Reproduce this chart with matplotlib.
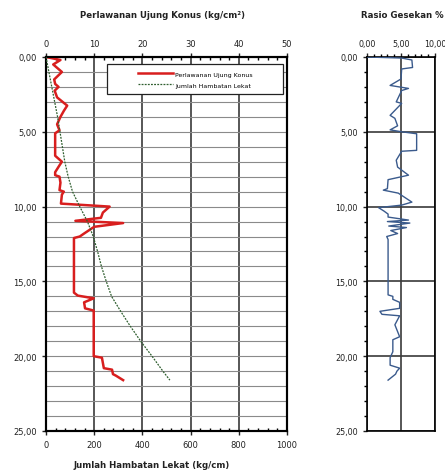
import numpy as np
import matplotlib
matplotlib.use("Agg")
import matplotlib.pyplot as plt
from matplotlib.ticker import MultipleLocator, FuncFormatter
from matplotlib.patches import Rectangle

# data
depth_qc = [0, 0.2, 0.5, 1.0, 1.5, 1.8, 2.0, 2.25, 2.7, 3.25, 3.6, 4.0, 4.5, 4.9, 5.1, 6.0,
            6.6, 7.0, 7.24, 7.7, 7.9, 8.0, 8.4, 8.9, 9.0, 9.2, 9.8, 10.0, 10.4, 10.75, 10.95,
            11.1, 11.35, 11.8, 12.0, 12.1, 15.75, 15.95, 16.13, 16.4, 16.8, 16.95, 20.0, 20.1,
            20.8, 20.9, 21.2, 21.3, 21.6]
qc = [0, 3.0, 1.5, 3.3, 1.7, 1.9, 2.6, 1.8, 2.3, 4.4, 3.7, 3.0, 2.3, 2.8, 1.9, 1.9,
      1.9, 3.3, 2.8, 1.9, 1.9, 2.8, 3.0, 2.8, 3.7, 3.3, 3.1, 13.2, 11.8, 11.4, 6.1,
      16.0, 10.0, 7.9, 7.0, 5.8, 5.8, 6.6, 9.9, 7.9, 8.1, 9.9, 9.9, 11.6,
      12.0, 13.7, 13.9, 14.5, 16.0]

depth_jhl = [0, 1, 2, 3, 4, 5, 6, 7, 8, 9, 10, 11, 12, 13, 14, 15, 16, 17, 18, 19, 20, 21, 21.6]
jhl = [0, 12, 24, 36, 48, 58, 68, 78, 92, 110, 140, 172, 196, 214, 230, 250, 272, 310, 350,
       393, 440, 485, 514]

depth_rf = [0, 0.07, 0.2, 0.7, 0.8, 1.47, 1.9, 2.1, 2.24, 3.0, 3.1, 3.9, 4.1, 4.6, 4.87, 5.0,
            5.13, 6.24, 6.3, 6.9, 7.36, 7.9, 8.2, 8.8, 8.9, 9.1, 9.7, 9.9, 10.07, 10.3, 10.5,
            10.7, 10.9, 11.0, 11.1, 11.3, 11.4, 11.6, 11.8, 12.0, 12.2, 15.9, 16.0, 16.2, 16.4,
            16.8, 17.0, 17.2, 17.3, 17.9, 18.7, 18.9, 19.7, 20.1, 20.6, 20.8, 21.0, 21.2, 21.6]
rf = [0, 5.1, 6.6, 6.7, 5.1, 5.0, 3.4, 6.1, 5.1, 4.3, 5.1, 3.4, 4.1, 4.5, 3.4, 5.1,
      7.3, 7.3, 5.1, 4.3, 4.5, 6.1, 3.1, 3.0, 2.4, 4.6, 6.6, 5.1, 1.7, 2.5, 3.1,
      3.1, 6.1, 3.0, 6.3, 3.2, 5.8, 3.5, 4.5, 2.9, 3.1, 3.1, 3.8, 3.8, 4.8,
      4.8, 1.9, 2.2, 4.8, 4.1, 4.8, 3.8, 3.8, 3.4, 3.4, 4.8, 4.4, 4.2, 3.1]

plt.rcParams['font.family'] = ['DejaVu Sans']
comma2 = FuncFormatter(lambda v, p: f"{v:.2f}".replace('.', ','))

fig = plt.figure(figsize=(4.45, 4.77), dpi=100)
W, H = 445, 477
def box(x0, x1, ytop, ybot):
    return [x0 / W, 1 - ybot / H, (x1 - x0) / W, (ybot - ytop) / H]

# --- left chart ---
ax1 = fig.add_axes(box(46, 287, 58, 432))
ax1b = ax1.twiny()

ax1.set_xlim(0, 50)
ax1.set_ylim(25, 0)
ax1.xaxis.tick_top()
ax1.xaxis.set_major_locator(MultipleLocator(10))
ax1.xaxis.set_minor_locator(MultipleLocator(2))
ax1.yaxis.set_major_locator(MultipleLocator(5))
ax1.yaxis.set_minor_locator(MultipleLocator(1))
ax1.yaxis.set_major_formatter(comma2)
ax1.grid(True, axis='y', which='both', color='#8a8a8a', lw=0.8)
ax1.grid(True, axis='x', which='major', color='#3a3a3a', lw=1.2)
ax1.tick_params(axis='both', which='major', labelsize=6, length=3, width=1, colors='#222222')
ax1.tick_params(axis='x', which='minor', direction='in', length=2, width=1)
ax1.tick_params(axis='y', which='minor', length=0)
for s in ax1.spines.values():
    s.set_linewidth(1.5)
l1, = ax1.plot(qc, depth_qc, color='#d81e1e', lw=1.8, label='Perlawanan Ujung Konus', zorder=4)

ax1b.set_xlim(0, 1000)
ax1b.xaxis.tick_bottom()
ax1b.xaxis.set_major_locator(MultipleLocator(200))
ax1b.xaxis.set_minor_locator(MultipleLocator(40))
ax1b.tick_params(axis='x', which='major', labelsize=6, length=3, width=1, colors='#222222')
ax1b.tick_params(axis='x', which='minor', direction='in', length=2, width=1)
for s in ax1b.spines.values():
    s.set_linewidth(1.5)
l2, = ax1b.plot(jhl, depth_jhl, color='#2e5e2e', lw=0.9, ls=(0, (1.5, 1)), label='Jumlah Hambatan Lekat', zorder=3)

# legend with a white box
ax1.add_patch(Rectangle((12.7, 0.5), 36.4, 2.0, facecolor='white', edgecolor='#222222',
                        lw=0.9, zorder=5, clip_on=False))
leg = ax1.legend([l1, l2], [l1.get_label(), l2.get_label()], loc='center',
                 bbox_to_anchor=(0.62, 0.94), fontsize=4.5, frameon=False,
                 handlelength=5.5, handletextpad=0.4, labelspacing=0.9)
leg.set_zorder(6)

fig.text(163 / W, 1 - 15 / H, 'Perlawanan Ujung Konus (kg/cm²)', ha='center', va='center',
         fontsize=6.2, fontweight='bold', color='#222222')
fig.text(152 / W, 1 - 466 / H, 'Jumlah Hambatan Lekat (kg/cm)', ha='center', va='center',
         fontsize=6.2, fontweight='bold', color='#222222')

# --- right chart ---
ax2 = fig.add_axes(box(367, 435, 58, 432))
ax2.set_xlim(0, 10)
ax2.set_ylim(25, 0)
ax2.xaxis.tick_top()
ax2.xaxis.set_major_locator(MultipleLocator(5))
ax2.xaxis.set_minor_locator(MultipleLocator(1))
ax2.xaxis.set_major_formatter(comma2)
ax2.yaxis.set_major_locator(MultipleLocator(5))
ax2.yaxis.set_minor_locator(MultipleLocator(1))
ax2.yaxis.set_major_formatter(comma2)
ax2.grid(True, which='major', color='#3a3a3a', lw=1.2)
ax2.tick_params(axis='both', which='major', labelsize=5.8, length=3, width=1, colors='#222222')
ax2.tick_params(axis='both', which='minor', length=2, width=1)
for s in ax2.spines.values():
    s.set_linewidth(1.2)
ax2.plot(rf, depth_rf, color='#3a5a8c', lw=1.0, zorder=4)

fig.text(402 / W, 1 - 15 / H, 'Rasio Gesekan %', ha='center', va='center',
         fontsize=6.2, fontweight='bold', color='#222222')

fig.savefig('out.png', dpi=100)
